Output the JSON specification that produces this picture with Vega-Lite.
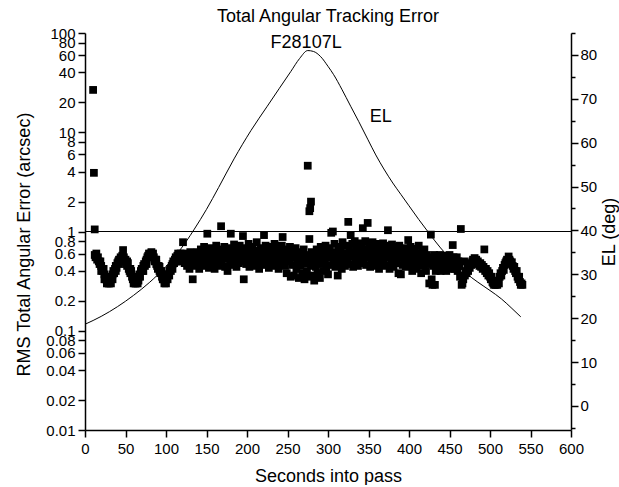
{
"$schema":"https://vega.github.io/schema/vega-lite/v6.json",
"width":486,"height":397,
"padding":{"left":15,"right":0,"top":8,"bottom":0},
"autosize":{"type":"pad"},
"background":"white",
"config":{"view":{"stroke":null},"font":"Liberation Sans",
 "axis":{"grid":false,"domainColor":"black","tickColor":"black","labelColor":"black","titleColor":"black","labelFont":"Liberation Sans","titleFont":"Liberation Sans","labelFontSize":15,"titleFontSize":18,"titleFontWeight":"normal","domainWidth":1.5,"tickWidth":1.5,"labelOverlap":false,"labelFlush":false,"labelBound":false}},
"title":{"text":"Total Angular Tracking Error","fontSize":18,"fontWeight":"normal","font":"Liberation Sans","color":"black","offset":0},
"datasets":{
"err":[
{"s":10,"v":26.7},{"s":11,"v":3.9},{"s":12,"v":1.05},
{"s":12,"v":0.58},{"s":13,"v":0.55},{"s":14,"v":0.6},{"s":15,"v":0.52},{"s":16,"v":0.55},{"s":17,"v":0.5},{"s":18,"v":0.47},{"s":19,"v":0.5},{"s":20,"v":0.45},{"s":21,"v":0.42},{"s":22,"v":0.4},{"s":23,"v":0.42},{"s":24,"v":0.37},{"s":25,"v":0.35},{"s":26,"v":0.33},{"s":27,"v":0.3},{"s":28,"v":0.32},{"s":29,"v":0.3},{"s":30,"v":0.3},{"s":31,"v":0.33},{"s":32,"v":0.3},{"s":33,"v":0.35},{"s":34,"v":0.37},{"s":35,"v":0.4},{"s":36,"v":0.38},{"s":37,"v":0.42},{"s":38,"v":0.45},{"s":39,"v":0.43},{"s":40,"v":0.48},{"s":41,"v":0.5},{"s":42,"v":0.47},{"s":43,"v":0.52},{"s":44,"v":0.55},{"s":45,"v":0.5},{"s":46,"v":0.57},{"s":47,"v":0.65},{"s":48,"v":0.55},{"s":49,"v":0.5},{"s":50,"v":0.52},{"s":51,"v":0.47},{"s":52,"v":0.45},{"s":53,"v":0.48},{"s":54,"v":0.42},{"s":55,"v":0.4},{"s":56,"v":0.38},{"s":57,"v":0.4},{"s":58,"v":0.35},{"s":59,"v":0.33},{"s":60,"v":0.3},{"s":61,"v":0.32},{"s":62,"v":0.3},{"s":63,"v":0.3},{"s":64,"v":0.33},{"s":65,"v":0.3},{"s":66,"v":0.35},{"s":67,"v":0.37},{"s":68,"v":0.35},{"s":69,"v":0.4},{"s":70,"v":0.42},{"s":71,"v":0.4},{"s":72,"v":0.45},{"s":73,"v":0.47},{"s":74,"v":0.45},{"s":75,"v":0.5},{"s":76,"v":0.52},{"s":77,"v":0.55},{"s":78,"v":0.57},{"s":79,"v":0.6},{"s":80,"v":0.55},{"s":81,"v":0.6},{"s":82,"v":0.62},{"s":83,"v":0.58},{"s":84,"v":0.6},{"s":85,"v":0.55},{"s":86,"v":0.5},{"s":87,"v":0.52},{"s":88,"v":0.47},{"s":89,"v":0.45},{"s":90,"v":0.42},{"s":91,"v":0.45},{"s":92,"v":0.4},{"s":93,"v":0.38},{"s":94,"v":0.4},{"s":95,"v":0.35},{"s":96,"v":0.37},{"s":97,"v":0.33},{"s":98,"v":0.3},{"s":99,"v":0.32},{"s":100,"v":0.3},{"s":101,"v":0.35},{"s":102,"v":0.33},{"s":103,"v":0.37},{"s":104,"v":0.4},{"s":105,"v":0.42},{"s":106,"v":0.4},{"s":107,"v":0.45},{"s":108,"v":0.47},{"s":109,"v":0.5},{"s":110,"v":0.48},{"s":111,"v":0.52},{"s":112,"v":0.55},{"s":113,"v":0.5},{"s":114,"v":0.57},{"s":115,"v":0.6},{"s":116,"v":0.55},{"s":117,"v":0.5},{"s":118,"v":0.6},{"s":119,"v":0.55},{"s":120,"v":0.52},
{"s":20,"v":0.4},{"s":24,"v":0.33},{"s":34,"v":0.33},{"s":38,"v":0.4},{"s":42,"v":0.52},{"s":52,"v":0.5},{"s":56,"v":0.42},{"s":66,"v":0.32},{"s":72,"v":0.4},{"s":76,"v":0.47},{"s":88,"v":0.52},{"s":92,"v":0.44},{"s":96,"v":0.33},{"s":104,"v":0.36},{"s":108,"v":0.42},{"s":112,"v":0.5},
{"s":121,"v":0.78},{"s":122,"v":0.55},{"s":123,"v":0.48},{"s":124,"v":0.6},{"s":125,"v":0.5},{"s":126,"v":0.45},{"s":127,"v":0.58},{"s":128,"v":0.52},{"s":129,"v":0.42},{"s":130,"v":0.62},{"s":131,"v":0.5},{"s":132,"v":0.55},{"s":133,"v":0.33},{"s":134,"v":0.47},{"s":135,"v":0.6},
{"s":136,"v":0.6},{"s":137,"v":0.5},{"s":138,"v":0.45},{"s":139,"v":0.62},{"s":140,"v":0.55},{"s":141,"v":0.42},{"s":142,"v":0.58},{"s":143,"v":0.66},{"s":144,"v":0.48},{"s":145,"v":0.52},
{"s":146,"v":0.6},{"s":147,"v":0.7},{"s":148,"v":0.45},{"s":149,"v":0.55},{"s":150,"v":0.62},{"s":151,"v":0.95},{"s":152,"v":0.5},{"s":153,"v":0.43},{"s":154,"v":0.6},{"s":155,"v":0.68},
{"s":156,"v":0.52},{"s":157,"v":0.46},{"s":158,"v":0.58},{"s":159,"v":0.64},{"s":160,"v":0.42},{"s":161,"v":0.55},{"s":162,"v":0.72},{"s":163,"v":0.5},{"s":164,"v":0.6},{"s":165,"v":0.45},
{"s":166,"v":0.57},{"s":167,"v":0.66},{"s":168,"v":1.13},{"s":169,"v":0.48},{"s":170,"v":0.62},{"s":171,"v":0.53},{"s":172,"v":0.7},{"s":173,"v":0.44},{"s":174,"v":0.58},{"s":175,"v":0.65},
{"s":176,"v":0.4},{"s":177,"v":0.55},{"s":178,"v":0.62},{"s":179,"v":0.5},{"s":180,"v":0.95},{"s":181,"v":0.68},{"s":182,"v":0.46},{"s":183,"v":0.58},{"s":184,"v":0.74},{"s":185,"v":0.52},
{"s":186,"v":0.6},{"s":187,"v":0.44},{"s":188,"v":0.66},{"s":189,"v":0.55},{"s":190,"v":0.48},{"s":191,"v":0.72},{"s":192,"v":0.58},{"s":193,"v":0.5},{"s":194,"v":0.63},{"s":195,"v":0.9},
{"s":196,"v":0.33},{"s":197,"v":0.56},{"s":198,"v":0.68},{"s":199,"v":0.47},{"s":200,"v":0.6},{"s":201,"v":0.52},{"s":202,"v":0.75},{"s":203,"v":0.44},{"s":204,"v":0.62},{"s":205,"v":0.55},
{"s":206,"v":0.48},{"s":207,"v":0.7},{"s":208,"v":0.58},{"s":209,"v":0.45},{"s":210,"v":0.64},{"s":211,"v":0.53},{"s":212,"v":0.78},{"s":213,"v":0.5},{"s":214,"v":0.6},{"s":215,"v":0.42},
{"s":216,"v":0.57},{"s":217,"v":0.68},{"s":218,"v":0.5},{"s":219,"v":0.62},{"s":220,"v":0.46},{"s":221,"v":0.92},{"s":222,"v":0.55},{"s":223,"v":0.72},{"s":224,"v":0.48},{"s":225,"v":0.6},
{"s":226,"v":0.66},{"s":227,"v":0.43},{"s":228,"v":0.58},{"s":229,"v":0.52},{"s":230,"v":0.7},{"s":231,"v":0.47},{"s":232,"v":0.62},{"s":233,"v":0.55},{"s":234,"v":0.75},{"s":235,"v":0.45},
{"s":236,"v":0.6},{"s":237,"v":0.5},{"s":238,"v":0.68},{"s":239,"v":0.42},{"s":240,"v":0.57},{"s":241,"v":0.64},{"s":242,"v":0.48},{"s":243,"v":0.72},{"s":244,"v":0.88},{"s":245,"v":0.53},
{"s":246,"v":0.6},{"s":247,"v":0.45},{"s":248,"v":0.66},{"s":249,"v":0.38},{"s":250,"v":0.55},{"s":251,"v":0.62},{"s":252,"v":0.5},{"s":253,"v":0.7},{"s":254,"v":0.35},{"s":255,"v":0.58},
{"s":256,"v":0.46},{"s":257,"v":0.64},{"s":258,"v":0.36},{"s":259,"v":0.55},{"s":260,"v":0.68},{"s":261,"v":0.42},{"s":262,"v":0.5},{"s":263,"v":0.6},{"s":264,"v":0.34},{"s":265,"v":0.56},
{"s":266,"v":0.45},{"s":267,"v":0.62},{"s":268,"v":0.38},{"s":269,"v":0.52},{"s":270,"v":0.66},{"s":271,"v":0.33},{"s":272,"v":0.58},{"s":273,"v":0.48},{"s":274,"v":0.4},{"s":275,"v":4.6},
{"s":276,"v":0.55},{"s":276,"v":0.35},{"s":277,"v":1.6},{"s":277,"v":0.84},{"s":278,"v":1.72},{"s":279,"v":2.0},{"s":279,"v":0.45},
{"s":280,"v":0.62},{"s":281,"v":0.36},{"s":282,"v":0.5},{"s":283,"v":0.32},{"s":284,"v":0.58},{"s":285,"v":0.44},
{"s":286,"v":0.66},{"s":287,"v":0.38},{"s":288,"v":0.52},{"s":289,"v":0.6},{"s":290,"v":0.34},{"s":291,"v":0.7},{"s":292,"v":0.47},{"s":293,"v":0.56},{"s":294,"v":0.4},{"s":295,"v":0.64},
{"s":296,"v":0.5},{"s":297,"v":0.72},{"s":298,"v":0.42},{"s":299,"v":0.6},{"s":300,"v":0.37},{"s":301,"v":0.55},{"s":302,"v":0.68},{"s":303,"v":0.46},{"s":304,"v":0.97},{"s":305,"v":0.58},
{"s":306,"v":1.0},{"s":307,"v":0.5},{"s":308,"v":0.75},{"s":309,"v":0.44},{"s":310,"v":0.62},{"s":311,"v":0.55},{"s":312,"v":0.36},{"s":313,"v":0.7},{"s":314,"v":0.48},{"s":315,"v":0.6},
{"s":316,"v":0.66},{"s":317,"v":0.42},{"s":318,"v":0.78},{"s":319,"v":0.52},{"s":320,"v":0.58},{"s":321,"v":0.45},{"s":322,"v":0.72},{"s":323,"v":0.6},{"s":324,"v":0.5},{"s":325,"v":1.25},
{"s":326,"v":0.64},{"s":327,"v":0.47},{"s":328,"v":0.92},{"s":329,"v":0.56},{"s":330,"v":0.75},{"s":331,"v":0.44},{"s":332,"v":0.62},{"s":333,"v":0.8},{"s":334,"v":0.5},{"s":335,"v":0.68},
{"s":336,"v":0.58},{"s":337,"v":0.45},{"s":338,"v":0.76},{"s":339,"v":0.55},{"s":340,"v":0.63},{"s":341,"v":0.48},{"s":342,"v":0.7},{"s":343,"v":1.08},{"s":344,"v":0.52},{"s":345,"v":0.6},
{"s":346,"v":0.8},{"s":347,"v":0.46},{"s":348,"v":0.66},{"s":349,"v":1.22},{"s":350,"v":0.55},{"s":351,"v":0.72},{"s":352,"v":0.44},{"s":353,"v":0.62},{"s":354,"v":0.5},{"s":355,"v":0.78},
{"s":356,"v":0.58},{"s":357,"v":0.45},{"s":358,"v":0.68},{"s":359,"v":0.53},{"s":360,"v":0.75},{"s":361,"v":0.47},{"s":362,"v":0.6},{"s":363,"v":0.42},{"s":364,"v":0.7},{"s":365,"v":0.55},
{"s":366,"v":0.64},{"s":367,"v":0.48},{"s":368,"v":0.76},{"s":369,"v":0.52},{"s":370,"v":0.6},{"s":371,"v":0.45},{"s":372,"v":0.72},{"s":373,"v":0.55},{"s":374,"v":1.03},{"s":375,"v":0.62},
{"s":376,"v":0.42},{"s":377,"v":0.68},{"s":378,"v":0.5},{"s":379,"v":0.74},{"s":380,"v":0.58},{"s":381,"v":0.44},{"s":382,"v":0.65},{"s":383,"v":0.52},{"s":384,"v":0.7},{"s":385,"v":0.48},
{"s":386,"v":0.6},{"s":387,"v":0.38},{"s":388,"v":0.72},{"s":389,"v":0.55},{"s":390,"v":0.37},{"s":391,"v":0.63},{"s":392,"v":0.46},{"s":393,"v":0.68},{"s":394,"v":0.52},{"s":395,"v":0.58},
{"s":396,"v":0.44},{"s":397,"v":0.66},{"s":398,"v":0.5},{"s":399,"v":0.82},{"s":400,"v":0.6},{"s":401,"v":0.45},{"s":402,"v":0.7},{"s":403,"v":0.53},{"s":404,"v":0.4},{"s":405,"v":0.62},
{"s":406,"v":0.48},{"s":407,"v":0.67},{"s":408,"v":0.55},{"s":409,"v":0.42},{"s":410,"v":0.6},{"s":411,"v":0.5},{"s":412,"v":0.72},{"s":413,"v":0.46},{"s":414,"v":0.58},{"s":415,"v":0.38},
{"s":416,"v":0.62},{"s":417,"v":0.52},{"s":418,"v":0.45},{"s":419,"v":0.66},{"s":420,"v":0.5},{"s":421,"v":0.4},{"s":422,"v":0.58},{"s":423,"v":0.47},{"s":424,"v":0.55},
{"s":425,"v":0.3},{"s":426,"v":0.52},{"s":427,"v":0.93},{"s":428,"v":0.33},{"s":429,"v":0.29},{"s":430,"v":0.45},{"s":431,"v":0.58},{"s":432,"v":0.29},{"s":433,"v":0.4},{"s":434,"v":0.5},{"s":435,"v":0.55},{"s":436,"v":0.42},{"s":437,"v":0.48},{"s":438,"v":0.58},{"s":439,"v":0.4},{"s":440,"v":0.52},{"s":441,"v":0.45},{"s":442,"v":0.55},{"s":443,"v":0.42},{"s":444,"v":0.5},{"s":445,"v":0.57},{"s":446,"v":0.4},{"s":447,"v":0.48},{"s":448,"v":0.53},{"s":449,"v":0.44},{"s":450,"v":0.58},{"s":451,"v":0.42},{"s":452,"v":0.5},{"s":453,"v":0.46},{"s":454,"v":0.73},{"s":455,"v":0.55},{"s":456,"v":0.42},{"s":457,"v":0.5},{"s":458,"v":0.45},{"s":459,"v":0.55},{"s":460,"v":0.4},{"s":461,"v":0.5},{"s":462,"v":0.45},{"s":463,"v":0.35},{"s":464,"v":1.06},{"s":465,"v":0.29},{"s":466,"v":0.3},{"s":467,"v":0.33},{"s":468,"v":0.5},{"s":469,"v":0.36},{"s":470,"v":0.4},
{"s":471,"v":0.38},{"s":472,"v":0.42},{"s":473,"v":0.4},{"s":474,"v":0.45},{"s":475,"v":0.43},{"s":476,"v":0.48},{"s":477,"v":0.46},{"s":478,"v":0.5},{"s":479,"v":0.52},{"s":480,"v":0.5},{"s":481,"v":0.54},{"s":482,"v":0.5},{"s":483,"v":0.52},{"s":484,"v":0.48},{"s":485,"v":0.5},{"s":486,"v":0.47},{"s":487,"v":0.45},{"s":488,"v":0.48},{"s":489,"v":0.44},{"s":490,"v":0.46},{"s":491,"v":0.42},{"s":492,"v":0.44},{"s":493,"v":0.66},{"s":494,"v":0.4},{"s":495,"v":0.42},{"s":496,"v":0.38},{"s":497,"v":0.4},{"s":498,"v":0.36},{"s":499,"v":0.38},{"s":500,"v":0.35},{"s":501,"v":0.33},{"s":502,"v":0.35},{"s":503,"v":0.31},{"s":504,"v":0.3},{"s":505,"v":0.29},{"s":506,"v":0.31},{"s":507,"v":0.29},{"s":508,"v":0.3},{"s":509,"v":0.29},{"s":510,"v":0.32},{"s":511,"v":0.3},{"s":512,"v":0.35},{"s":513,"v":0.38},{"s":514,"v":0.36},{"s":515,"v":0.4},{"s":516,"v":0.43},{"s":517,"v":0.41},{"s":518,"v":0.46},{"s":519,"v":0.48},{"s":520,"v":0.5},{"s":521,"v":0.52},{"s":522,"v":0.5},{"s":523,"v":0.56},{"s":524,"v":0.52},{"s":525,"v":0.5},{"s":526,"v":0.47},{"s":527,"v":0.49},{"s":528,"v":0.45},{"s":529,"v":0.42},{"s":530,"v":0.44},{"s":531,"v":0.4},{"s":532,"v":0.38},{"s":533,"v":0.4},{"s":534,"v":0.35},{"s":535,"v":0.33},{"s":536,"v":0.35},{"s":537,"v":0.31},{"s":538,"v":0.29},{"s":539,"v":0.3},{"s":540,"v":0.29}
],
"el":[
{"s":0,"el":18.6},{"s":20,"el":20.4},{"s":40,"el":22.6},{"s":60,"el":25.2},{"s":80,"el":28.2},{"s":100,"el":31.8},{"s":115,"el":35.0},{"s":125,"el":37.5},{"s":135,"el":40.3},{"s":150,"el":44.8},{"s":165,"el":49.8},{"s":184,"el":56.3},{"s":205,"el":62.8},{"s":225,"el":68.3},{"s":240,"el":72.4},{"s":254,"el":76.2},{"s":265,"el":79.2},{"s":275,"el":81.0},{"s":282,"el":80.8},{"s":291,"el":79.6},{"s":300,"el":77.4},{"s":307,"el":75.5},{"s":317,"el":72.2},{"s":328,"el":68.3},{"s":338,"el":64.8},{"s":349,"el":60.8},{"s":359,"el":57.2},{"s":369,"el":54.0},{"s":380,"el":50.8},{"s":390,"el":48.2},{"s":400,"el":45.6},{"s":412,"el":42.5},{"s":425,"el":39.3},{"s":439,"el":36.0},{"s":455,"el":32.8},{"s":470,"el":30.3},{"s":485,"el":28.2},{"s":500,"el":26.3},{"s":514,"el":24.4},{"s":526,"el":22.4},{"s":538,"el":20.3}
],
"notes":[{"s":273,"el":82.7,"t":"F28107L"},{"s":365,"el":65.9,"t":"EL"}]
},
"layer":[
 {"data":{"name":"err"},"layer":[
  {"mark":{"type":"point","shape":"square","filled":true,"color":"black","size":60,"opacity":1},
   "encoding":{
    "x":{"field":"s","type":"quantitative","scale":{"domain":[0,600],"nice":false,"zero":false},
      "axis":{"title":"Seconds into pass","values":[0,25,50,75,100,125,150,175,200,225,250,275,300,325,350,375,400,425,450,475,500,525,550,575,600],
        "labelExpr":"datum.value % 50 === 0 ? datum.label : ''",
        "tickSize":{"condition":{"test":"datum.value % 50 === 0","value":7},"value":4},
        "labelPadding":4,"titlePadding":11}},
    "y":{"field":"v","type":"quantitative","scale":{"type":"log","domain":[0.01,100],"nice":false},
      "axis":{"title":"RMS Total Angular Error (arcsec)","values":[0.01,0.02,0.04,0.06,0.08,0.1,0.2,0.4,0.6,0.8,1,2,4,6,8,10,20,40,60,80,100],
        "format":"~g","tickSize":7,"labelPadding":3,"titlePadding":12,"titleY":211}}}},
  {"mark":{"type":"rule","color":"black","strokeWidth":1.2},"encoding":{"y":{"datum":1}}}
 ]},
 {"data":{"name":"el"},
  "mark":{"type":"line","color":"black","strokeWidth":1,"interpolate":"monotone"},
  "encoding":{
    "x":{"field":"s","type":"quantitative"},
    "y":{"field":"el","type":"quantitative","scale":{"domain":[-5.5,85],"nice":false,"zero":false},
      "axis":{"orient":"right","title":"EL (deg)","titleAngle":-90,"titleBaseline":"top","values":[-5,0,5,10,15,20,25,30,35,40,45,50,55,60,65,70,75,80,85],
        "labelExpr":"datum.value % 10 === 0 ? datum.label : ''",
        "tickSize":{"condition":{"test":"datum.value % 10 === 0","value":7},"value":4},
        "labelPadding":2,"titlePadding":4}}}},
 {"data":{"name":"notes"},
  "mark":{"type":"text","fontSize":18,"font":"Liberation Sans","color":"black"},
  "encoding":{
    "x":{"field":"s","type":"quantitative"},
    "y":{"field":"el","type":"quantitative","scale":{"domain":[-5.5,85],"nice":false,"zero":false},"axis":null},
    "text":{"field":"t"}}}
],
"resolve":{"scale":{"y":"independent"}}
}
